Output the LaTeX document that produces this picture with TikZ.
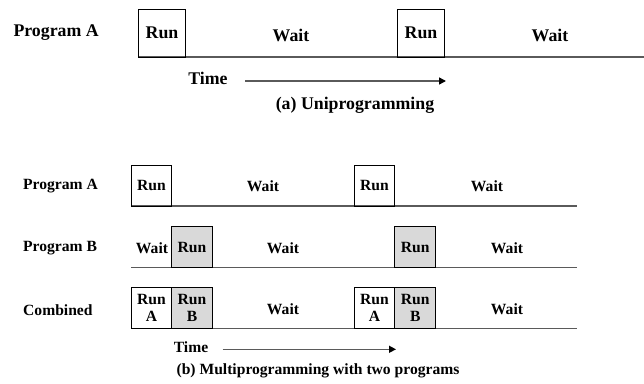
\documentclass[tikz,border=0pt]{standalone}
\usepackage{fontspec}
\setmainfont{Liberation Serif}
\usetikzlibrary{arrows.meta}
\definecolor{shade}{HTML}{D9D9D9}
\definecolor{lineg}{HTML}{5A5A5A}
\tikzset{
  big/.style={font=\fontsize{17.8}{19}\selectfont\bfseries, inner sep=0pt},
  small/.style={font=\fontsize{15.6}{16.5}\selectfont\bfseries, inner sep=0pt},
  bigbox/.style={big, draw=black, line width=0.9pt, minimum width=47.4pt, minimum height=48pt},
  runbox/.style={small, draw=black, line width=0.9pt, minimum width=40.7pt, minimum height=41pt, align=center},
  shadebox/.style={runbox, fill=shade},
  baseline/.style={draw=lineg, line width=1.6pt},
  timearrow/.style={draw=lineg, line width=1.4pt, -{Triangle[length=7pt,width=7pt,fill=black,color=black]}},
}
\begin{document}
\begin{tikzpicture}[x=1pt,y=-1pt]
\useasboundingbox (0,0) rectangle (644,383);
% ---------- (a) ----------
\node[big, anchor=west] (pa) at (13.3,33) {Program A};
\coordinate (ua0) at (138.3,57);
\coordinate (ua1) at (644,57);
\draw[baseline] (ua0) -- (ua1);
\node[bigbox] (ar1) at (162,33) {Run};
\node[bigbox] (ar2) at (421,33) {Run};
\node[big] (aw1) at (291,35) {Wait};
\node[big] (aw2) at (550,35) {Wait};
\node[big] (atime) at (208,78) {Time};
\coordinate (ta0) at (245,81);
\coordinate (ta1) at (446,81);
\draw[timearrow] (ta0) -- (ta1);
\node[big] (capa) at (355,105) {(a) Uniprogramming};
% ---------- (b) ----------
\node[small, anchor=west] (pA) at (23,186) {Program A};
\node[small, anchor=west] (pB) at (23,248) {Program B};
\node[small, anchor=west] (pC) at (23,310) {Combined};
% row A
\coordinate (la0) at (131,206);
\coordinate (la1) at (577,206);
\draw[baseline] (la0) -- (la1);
\node[runbox] (ra1) at (151.4,185.5) {Run};
\node[runbox] (ra2) at (374.4,185.5) {Run};
\node[small] (wa1) at (263,186) {Wait};
\node[small] (wa2) at (487,186) {Wait};
% row B
\coordinate (lb0) at (131,267.3);
\coordinate (lb1) at (577,267.3);
\draw[baseline] (lb0) -- (lb1);
\node[shadebox] (rb1) at (192,247) {Run};
\node[shadebox] (rb2) at (415.2,247) {Run};
\node[small] (wb0) at (152,248) {Wait};
\node[small] (wb1) at (283,248) {Wait};
\node[small] (wb2) at (507,248) {Wait};
% combined
\coordinate (lc0) at (131,328.3);
\coordinate (lc1) at (577,328.3);
\draw[baseline] (lc0) -- (lc1);
\node[runbox] (ca1) at (151.4,307.8) {Run\\A};
\node[shadebox] (cb1) at (192,307.8) {Run\\B};
\node[runbox] (ca2) at (374.4,307.8) {Run\\A};
\node[shadebox] (cb2) at (415.2,307.8) {Run\\B};
\node[small] (wc1) at (283,309) {Wait};
\node[small] (wc2) at (507,309) {Wait};
% time arrow
\node[small] (btime) at (191,347.5) {Time};
\coordinate (tb0) at (222.7,349.3);
\coordinate (tb1) at (396,349.3);
\draw[timearrow] (tb0) -- (tb1);
\node[small] (capb) at (318,371) {(b) Multiprogramming with two programs};
\end{tikzpicture}
\end{document}
